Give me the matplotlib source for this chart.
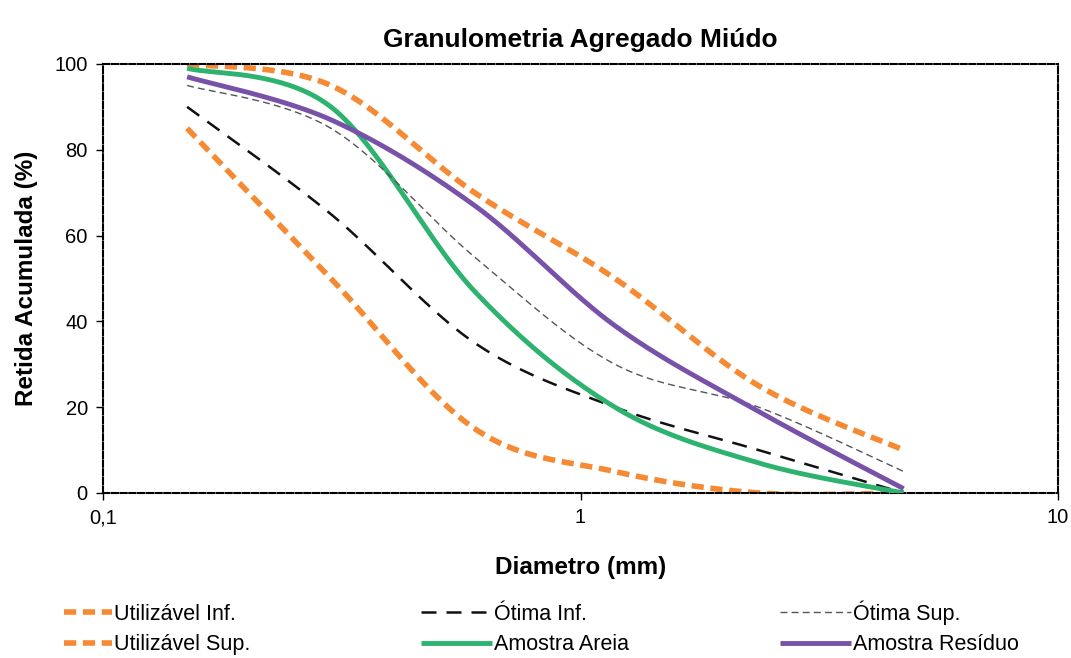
import matplotlib.pyplot as plt
import numpy as np

# Peneiras (mm) e % retida acumulada
peneiras = [0.15, 0.3, 0.6, 1.18, 2.36, 4.75]

util_inf = [85, 50, 15, 5, 0, 0]
util_sup = [100, 95, 70, 50, 25, 10]
otima_inf = [90, 65, 35, 20, 10, 0]
otima_sup = [95, 85, 55, 30, 20, 5]
amostra_areia = [99, 90, 47, 20, 7, 0]
amostra_residuo = [97, 87, 67, 39, 19, 1]

x_ticks = [0.1, 1, 10]
x_ticklabels = ['0,1', '1', '10']
y_ticks = [0, 20, 40, 60, 80, 100]

plt.rcParams['font.family'] = ['Liberation Sans', 'DejaVu Sans']


def suavizar(xs, ys, n=40):
    # linha suavizada tipo Excel (Catmull-Rom em log x)
    px = np.log10(xs)
    py = np.asarray(ys, dtype=float)
    px = np.concatenate([[px[0]], px, [px[-1]]])
    py = np.concatenate([[py[0]], py, [py[-1]]])
    out_x, out_y = [], []
    t = np.linspace(0, 1, n)
    for i in range(1, len(px) - 2):
        for p, out in ((px, out_x), (py, out_y)):
            p0, p1, p2, p3 = p[i - 1], p[i], p[i + 1], p[i + 2]
            seg = 0.5 * (2 * p1 + (-p0 + p2) * t + (2 * p0 - 5 * p1 + 4 * p2 - p3) * t ** 2
                         + (-p0 + 3 * p1 - 3 * p2 + p3) * t ** 3)
            out.extend(seg)
    return 10 ** np.array(out_x), np.array(out_y)


fig = plt.figure(figsize=(10.71, 6.58), dpi=100)
ax = fig.add_axes([0.0962, 0.2508, 0.8917, 0.652])

laranja = '#F58A32'
estilos = {
    'Utilizável Inf.': (util_inf, dict(color=laranja, lw=4, dashes=(2.2, 1.2))),
    'Utilizável Sup.': (util_sup, dict(color=laranja, lw=4, dashes=(2.2, 1.2))),
    'Ótima Inf.': (otima_inf, dict(color='#111111', lw=1.8, dashes=(6, 4))),
    'Amostra Areia': (amostra_areia, dict(color='#2DB36F', lw=3.5)),
    'Ótima Sup.': (otima_sup, dict(color='#555555', lw=1.0, dashes=(5, 3))),
    'Amostra Resíduo': (amostra_residuo, dict(color='#7752A8', lw=3.5)),
}

linhas = {}
for nome, (ys, estilo) in estilos.items():
    sx, sy = suavizar(peneiras, ys)
    linhas[nome], = ax.plot(sx, sy, label=nome, solid_capstyle='butt', **estilo)

for nome in ['Ótima Sup.', 'Amostra Resíduo', 'Amostra Areia']:
    linhas[nome].set_zorder(3)
linhas['Utilizável Sup.'].set_zorder(2.5)

ax.set_xscale('log')
ax.set_xlim(0.1, 10)
ax.set_ylim(0, 100)
ax.set_xticks(x_ticks)
ax.set_xticklabels(x_ticklabels)
ax.xaxis.set_minor_locator(plt.NullLocator())
ax.set_yticks(y_ticks)
ax.tick_params(axis='both', which='major', labelsize=14.5, length=5, width=1, direction='out', pad=6)

for sp in ax.spines.values():
    sp.set_linestyle((0, (3, 1.2)))
    sp.set_linewidth(1.5)
    sp.set_color('black')

ax.set_title('Granulometria Agregado Miúdo', fontsize=19, fontweight='bold', pad=12)
ax.set_xlabel('Diametro (mm)', fontsize=17.5, fontweight='bold', labelpad=21)
ax.set_ylabel('Retida Acumulada (%)', fontsize=17.5, fontweight='bold', labelpad=12)

# legenda em três colunas (uma legenda por coluna)
colunas = [
    (['Utilizável Inf.', 'Utilizável Sup.'], 0.052, 2.2),
    (['Ótima Inf.', 'Amostra Areia'], 0.385, 3.3),
    (['Ótima Sup.', 'Amostra Resíduo'], 0.720, 3.3),
]
for nomes, x0, hl in colunas:
    fig.legend(handles=[linhas[n] for n in nomes], loc='lower left',
               bbox_to_anchor=(x0, -0.009), frameon=False, fontsize=15.5,
               handlelength=hl, handletextpad=0.1, labelspacing=0.45, borderaxespad=0)

fig.savefig('out.png', dpi=100)
